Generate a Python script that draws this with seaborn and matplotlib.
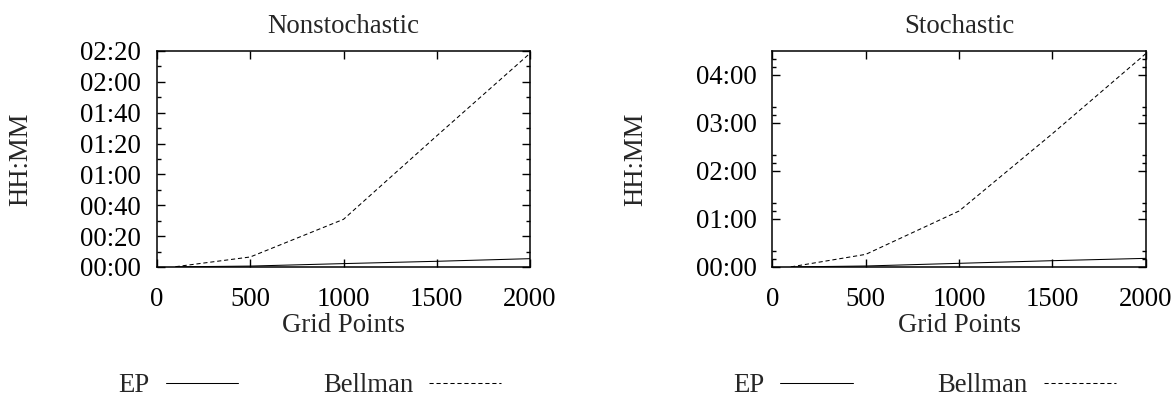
import numpy as np
import pandas as pd
import matplotlib
matplotlib.use('Agg')
import matplotlib.pyplot as plt
from matplotlib.ticker import FuncFormatter, FixedLocator
import seaborn as sns

# grid sizes and run times (minutes)
grid_points = [100, 500, 1000, 1500, 2000]
ep_nonstoch = [0.1, 0.6, 2.2, 3.7, 5.4]
bellman_nonstoch = [0.2, 6.5, 30.9, 85.0, 138.5]
ep_stoch = [0.1, 1.25, 4.6, 7.9, 10.8]
bellman_stoch = [0.2, 15.8, 70.0, 166.7, 266.7]

panels = ['Nonstochastic', 'Stochastic']
methods = ['EP', 'Bellman']
x_ticks = [0, 500, 1000, 1500, 2000]

rows = []
for panel, ep, bell in [('Nonstochastic', ep_nonstoch, bellman_nonstoch),
                        ('Stochastic', ep_stoch, bellman_stoch)]:
    for g, e, b in zip(grid_points, ep, bell):
        rows.append((panel, 'EP', g, e))
        rows.append((panel, 'Bellman', g, b))
df = pd.DataFrame(rows, columns=['panel', 'method', 'grid', 'minutes'])

sns.set_theme(style='ticks')
plt.rcParams['font.family'] = ['Liberation Serif', 'DejaVu Serif']
plt.rcParams['axes.linewidth'] = 1.1

FS = 19.3

def hhmm(v, pos):
    m = int(round(v))
    return f"{m // 60:02d}:{m % 60:02d}"

fig = plt.figure(figsize=(11.74, 3.98), dpi=100)

layout = {
    'Nonstochastic': dict(rect=[157 / 1174, 1 - 267 / 398, 373 / 1174, 216 / 398],
                          ylim=140, major=list(range(0, 141, 20)),
                          minor=list(range(10, 140, 20)), legx=310 / 1174),
    'Stochastic': dict(rect=[772.4 / 1174, 1 - 267 / 398, 373.4 / 1174, 216 / 398],
                       ylim=270, major=list(range(0, 241, 60)),
                       minor=[h * 60 + m for h in range(5) for m in (10, 20)],
                       legx=924.5 / 1174),
}

for panel in panels:
    cfg = layout[panel]
    ax = fig.add_axes(cfg['rect'])
    sub = df[df['panel'] == panel]
    sns.lineplot(data=sub, x='grid', y='minutes', style='method',
                 style_order=methods, dashes={'EP': '', 'Bellman': (4, 2.7)},
                 color='black', lw=0.75, ax=ax, legend=True)
    handles, labels = ax.get_legend_handles_labels()
    ax.get_legend().remove()
    pairs = [(h, l) for h, l in zip(handles, labels) if l in methods]
    for h, _ in pairs:
        h.set_color('black')
        h.set_linewidth(0.75)

    ax.set_xlim(0, 2000)
    ax.set_ylim(0, cfg['ylim'])
    ax.xaxis.set_major_locator(FixedLocator(x_ticks))
    ax.yaxis.set_major_locator(FixedLocator(cfg['major']))
    ax.yaxis.set_minor_locator(FixedLocator(cfg['minor']))
    ax.yaxis.set_major_formatter(FuncFormatter(hhmm))
    ax.tick_params(which='both', direction='in', top=True, right=True,
                   colors='black', width=1.0, labelsize=FS)
    ax.tick_params(which='major', length=6)
    ax.tick_params(which='minor', length=3)
    ax.tick_params(axis='y', pad=11.5)
    ax.tick_params(axis='x', pad=14.5)
    for s in ax.spines.values():
        s.set_color('black')

    ax.set_title(panel, fontsize=FS, pad=13)
    ax.set_xlabel('Grid Points', fontsize=FS, labelpad=0.5)
    ax.set_ylabel('HH:MM', fontsize=FS)
    ax.yaxis.set_label_coords(-0.333, 0.5)

    fig.legend([p[0] for p in pairs], [p[1] for p in pairs],
               loc='center', bbox_to_anchor=(cfg['legx'], 1 - 386 / 398),
               ncol=2, markerfirst=False, frameon=False, fontsize=FS,
               handlelength=2.69, handletextpad=0.6, columnspacing=3.17)

fig.savefig('out.png', dpi=100)
